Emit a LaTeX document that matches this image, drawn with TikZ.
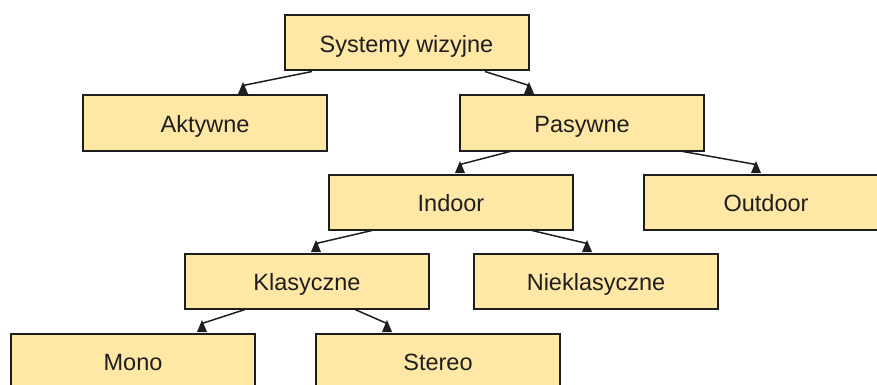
\documentclass[tikz,border=0pt]{standalone}
\usepackage{fontspec}
\setmainfont{Liberation Sans}
\usetikzlibrary{calc}
\definecolor{boxfill}{RGB}{255,231,166}
\definecolor{ink}{RGB}{30,30,30}
\tikzset{
  box/.style={draw=ink, line width=2pt, fill=boxfill, rectangle,
    minimum width=244pt, minimum height=55pt, inner sep=0pt,
    text height=19.4pt, text depth=0pt,
    text=ink, font=\fontsize{23.5pt}{28pt}\selectfont},
  link/.style={draw=ink, line width=1.5pt},
  tipmark/.style={fill=ink}
}
% connector from a parent's lower edge to a child's upper edge,
% ending in a small upright triangle seated on the child's border
\newcommand{\linkto}[4]{%
  \draw[link] ($(#1.south)+(#2,0)$) -- ($(#3.north)+(#4,-9)$);
  \fill[tipmark] ($(#3.north)+(#4-5,-0.5)$) -- ($(#3.north)+(#4+5,-0.5)$)
    -- ($(#3.north)+(#4,-12.5)$) -- cycle;}
\begin{document}
\begin{tikzpicture}[x=1pt,y=-1pt]
  \useasboundingbox (0,0) rectangle (877,385);
  \clip (0,0) rectangle (877,385);
  \fill[white] (0,0) rectangle (877,385);

  % hierarchy of vision systems
  \node[box] (sys)  at (406.5,43) {Systemy wizyjne};
  \node[box] (akt)  at (205,123)  {Aktywne};
  \node[box] (pas)  at (582,123)  {Pasywne};
  \node[box] (ind)  at (451,202)  {Indoor};
  \node[box] (out)  at (766,202)  {Outdoor};
  \node[box] (kla)  at (307,281)  {Klasyczne};
  \node[box] (nie)  at (596,281)  {Nieklasyczne};
  \node[box] (mono) at (133,361)  {Mono};
  \node[box] (ster) at (438,361)  {Stereo};

  % connectors
  \linkto{sys}{-94.5}{akt}{38}
  \linkto{sys}{78.5}{pas}{-53}
  \linkto{pas}{-72}{ind}{9}
  \linkto{pas}{101}{out}{-10}
  \linkto{ind}{-79}{kla}{9}
  \linkto{ind}{81}{nie}{-9}
  \linkto{kla}{-62}{mono}{69}
  \linkto{kla}{48}{ster}{-51}
\end{tikzpicture}
\end{document}
